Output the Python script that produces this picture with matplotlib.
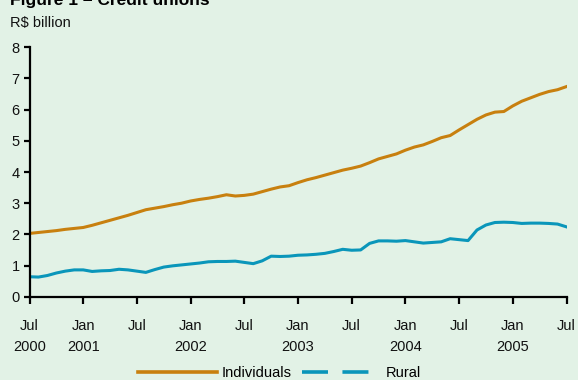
import matplotlib
matplotlib.use("Agg")
import matplotlib.pyplot as plt
from matplotlib.lines import Line2D
import numpy as np

months = np.arange(61)  # Jul 2000 .. Jul 2005, monthly
individuals = [2.03, 2.06, 2.09, 2.12, 2.16, 2.19, 2.22, 2.29, 2.37, 2.45, 2.53, 2.61, 2.70,
               2.79, 2.84, 2.89, 2.95, 3.00, 3.07, 3.12, 3.16, 3.21, 3.27, 3.23, 3.25,
               3.29, 3.37, 3.45, 3.52, 3.56, 3.66, 3.75, 3.82, 3.90, 3.98, 4.06, 4.12,
               4.19, 4.30, 4.42, 4.50, 4.58, 4.70, 4.80, 4.87, 4.98, 5.10, 5.17, 5.35,
               5.52, 5.69, 5.83, 5.92, 5.94, 6.12, 6.27, 6.38, 6.49, 6.58, 6.64, 6.74]
rural = [0.64, 0.63, 0.68, 0.76, 0.82, 0.86, 0.86, 0.81, 0.83, 0.84, 0.88, 0.86, 0.82,
         0.78, 0.87, 0.95, 0.99, 1.02, 1.05, 1.08, 1.12, 1.13, 1.13, 1.14, 1.10,
         1.06, 1.15, 1.30, 1.29, 1.30, 1.33, 1.34, 1.36, 1.39, 1.45, 1.52, 1.49,
         1.50, 1.71, 1.79, 1.79, 1.78, 1.80, 1.76, 1.72, 1.74, 1.76, 1.86, 1.83,
         1.80, 2.14, 2.30, 2.38, 2.39, 2.38, 2.35, 2.36, 2.36, 2.35, 2.33, 2.24]
xtick_labels = ["Jul\n2000", "Jan\n2001", "Jul\n", "Jan\n2002", "Jul\n", "Jan\n2003",
                "Jul\n", "Jan\n2004", "Jul\n", "Jan\n2005", "Jul\n"]
yticks = [0, 1, 2, 3, 4, 5, 6, 7, 8]

bg = "#E2F2E6"
orange = "#C8800F"
blue = "#0A96BA"

plt.rcParams['font.family'] = ['Liberation Sans', 'DejaVu Sans']

fig = plt.figure(figsize=(5.78, 3.80), dpi=100, facecolor=bg)
ax = fig.add_axes([29.5/578, 1-296.7/380, (566.5-29.5)/578, (296.7-47.3)/380])
ax.set_facecolor(bg)

ax.plot(months, individuals, color=orange, lw=2.2, label="Individuals")
ax.plot(months, rural, color=blue, lw=2.2, label="Rural")

ax.set_xlim(0, 60)
ax.set_ylim(0, 8)
ax.set_xticks(np.arange(0, 61, 6))
ax.set_xticklabels(xtick_labels)
ax.set_yticks(yticks)

for s in ["top", "right"]:
    ax.spines[s].set_visible(False)
for s in ["left", "bottom"]:
    ax.spines[s].set_linewidth(1.6)
    ax.spines[s].set_color("black")
ax.tick_params(axis='x', direction='out', length=5, width=1.6, labelsize=10.5, pad=11, colors='black')
ax.tick_params(axis='y', direction='out', length=4, width=1.6, labelsize=10.5, pad=3, colors='black')
for t in ax.get_xticklabels():
    t.set_linespacing(1.65)
    t.set_color("#111111")
for t in ax.get_yticklabels():
    t.set_color("#111111")

h1 = Line2D([], [], color=orange, lw=2.6)
h2 = Line2D([], [], color=blue, lw=2.6, dashes=(7.2, 4.0))
fig.legend([h1, h2], ["Individuals", "Rural"], loc="center", bbox_to_anchor=(0.484, 1-373/380),
           ncol=2, frameon=False, fontsize=10.5, handlelength=5.4, handletextpad=0.35,
           columnspacing=0.7, borderaxespad=0, borderpad=0)

fig.text(10/578, 1-5/380, "Figure 1 – Credit unions", fontsize=12.5, fontweight='bold',
         va='baseline', ha='left', color='black')
fig.text(10/578, 1-27/380, "R$ billion", fontsize=10.5, va='baseline', ha='left', color='#111111')

fig.savefig("out.png", dpi=100, facecolor=bg)
